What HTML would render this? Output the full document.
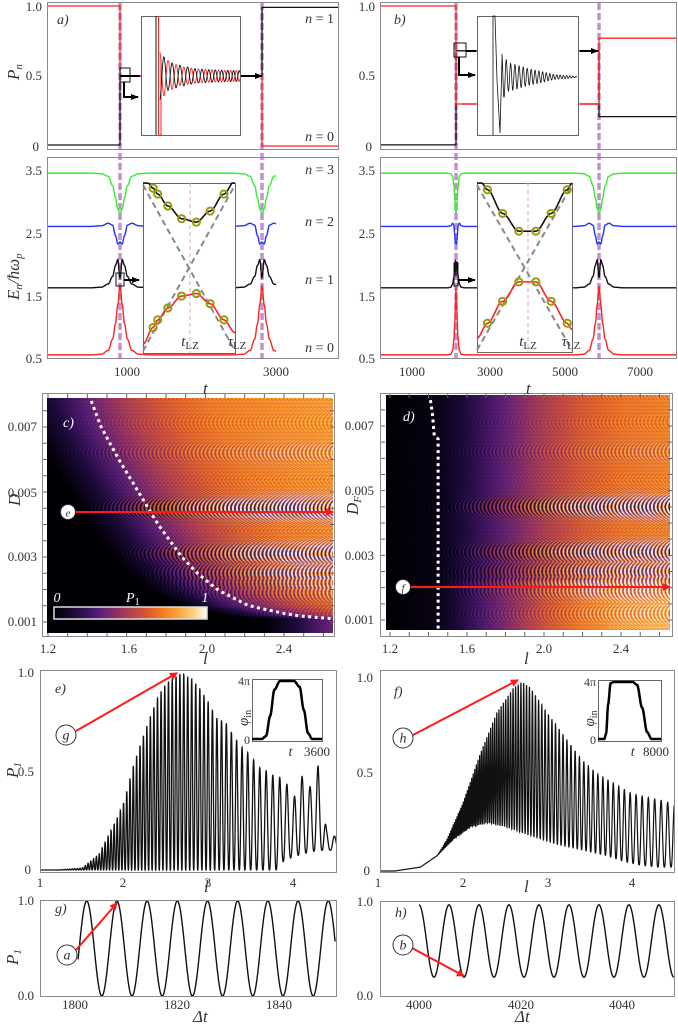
<!DOCTYPE html>
<html><head><meta charset="utf-8">
<style>
html,body{margin:0;padding:0;background:#fff;}
#root{position:relative;width:678px;height:1024px;overflow:hidden;background:#fff;}
canvas{position:absolute;}
svg{position:absolute;left:0;top:0;font-family:"Liberation Serif","DejaVu Serif",serif;}
svg text{font-family:"Liberation Serif","DejaVu Serif",serif;fill:#333;}
.tk{font-size:13px;}
.it{font-style:italic;}
</style></head>
<body>
<div id="root">
<canvas id="hc" width="286" height="235" style="left:47px;top:398px"></canvas>
<canvas id="hd" width="284" height="235" style="left:386px;top:395px"></canvas>
<svg id="svg" width="678" height="1024" viewBox="0 0 678 1024" font-family="Liberation Serif, DejaVu Serif, serif">
<defs>
<marker id="arR" markerWidth="8" markerHeight="8" refX="7" refY="4" orient="auto" markerUnits="userSpaceOnUse"><path d="M0,0 L8,4 L0,8 z" fill="#ff1a1a"/></marker>
<marker id="arK" markerWidth="8" markerHeight="8" refX="7" refY="4" orient="auto" markerUnits="userSpaceOnUse"><path d="M0,1 L8,4 L0,7 z" fill="#000"/></marker>
<clipPath id="cAt"><rect x="48" y="3" width="290" height="146"/></clipPath>
<clipPath id="cAb"><rect x="48" y="158" width="290" height="200"/></clipPath>
<clipPath id="cBt"><rect x="381" y="3" width="295" height="146"/></clipPath>
<clipPath id="cBb"><rect x="381" y="158" width="295" height="200"/></clipPath>
<clipPath id="cE"><rect x="41" y="671" width="295" height="201"/></clipPath>
<clipPath id="cF"><rect x="381" y="671" width="293" height="201"/></clipPath>
<clipPath id="cG"><rect x="41" y="901" width="295" height="95"/></clipPath>
<clipPath id="cH"><rect x="381" y="902" width="293" height="94"/></clipPath>
</defs>
<g id="lay"></g>
<g fill="none" stroke="#8a8a8a" stroke-width="1">
<rect x="47.5" y="2.5" width="291" height="147"/>
<rect x="47.5" y="157.5" width="291" height="201"/>
<rect x="380.5" y="2.5" width="296" height="147"/>
<rect x="380.5" y="157.5" width="296" height="201"/>
<rect x="42.5" y="393.5" width="292" height="243"/>
<rect x="380.5" y="393.5" width="292" height="243"/>
<rect x="40.5" y="670.5" width="296" height="202"/>
<rect x="40.5" y="900.5" width="296" height="96"/>
<rect x="380.5" y="670.5" width="294" height="202"/>
<rect x="380.5" y="901.5" width="294" height="95"/>
</g>
<g class="tk" text-anchor="end">
<text x="42" y="11">1.0</text>
<text x="42" y="80">0.5</text>
<text x="39" y="151">0</text>
<text x="42" y="175">3.5</text>
<text x="42" y="238">2.5</text>
<text x="42" y="301">1.5</text>
<text x="42" y="363">0.5</text>
<text x="375" y="11">1.0</text>
<text x="375" y="80">0.5</text>
<text x="372" y="151">0</text>
<text x="375" y="175">3.5</text>
<text x="375" y="238">2.5</text>
<text x="375" y="301">1.5</text>
<text x="375" y="363">0.5</text>
<text x="37" y="431">0.007</text>
<text x="37" y="497">0.005</text>
<text x="37" y="561">0.003</text>
<text x="37" y="626">0.001</text>
<text x="374" y="430">0.007</text>
<text x="374" y="495">0.005</text>
<text x="374" y="560">0.003</text>
<text x="374" y="624">0.001</text>
<text x="34" y="677">1.0</text>
<text x="34" y="776">0.5</text>
<text x="31" y="874">0</text>
<text x="34" y="905">1.0</text>
<text x="34" y="1000">0.0</text>
<text x="373" y="682">1.0</text>
<text x="373" y="777">0.5</text>
<text x="370" y="875">0</text>
<text x="373" y="906">1.0</text>
<text x="373" y="1000">0.0</text>
</g>
<g class="tk" text-anchor="middle">
<text x="127" y="376">1000</text>
<text x="276" y="376">3000</text>
<text x="412" y="376">1000</text>
<text x="490" y="376">3000</text>
<text x="565" y="376">5000</text>
<text x="640" y="376">7000</text>
<text x="48" y="653">1.2</text>
<text x="129" y="653">1.6</text>
<text x="207" y="653">2.0</text>
<text x="284" y="653">2.4</text>
<text x="390" y="653">1.2</text>
<text x="467" y="653">1.6</text>
<text x="544" y="653">2.0</text>
<text x="621" y="653">2.4</text>
<text x="40" y="887">1</text>
<text x="123" y="887">2</text>
<text x="208" y="887">3</text>
<text x="293" y="887">4</text>
<text x="378" y="887">1</text>
<text x="463" y="887">2</text>
<text x="548" y="887">3</text>
<text x="632" y="887">4</text>
<text x="75" y="1009">1800</text>
<text x="177" y="1009">1820</text>
<text x="279" y="1009">1840</text>
<text x="419" y="1009">4000</text>
<text x="521" y="1009">4020</text>
<text x="622" y="1009">4040</text>
</g>
<g font-size="17" class="it">
<text class="it" transform="translate(19,80) rotate(-90)">P<tspan font-size="11" dy="3">n</tspan></text>
<text class="it" transform="translate(19,300) rotate(-90)">E<tspan font-size="11" dy="3">n</tspan><tspan dy="-3">/ħω</tspan><tspan font-size="11" dy="3">p</tspan></text>
<text class="it" x="203" y="394">t</text>
<text class="it" x="526" y="394">t</text>
<text class="it" transform="translate(20,506) rotate(-90)">D</text>
<text class="it" transform="translate(358,515) rotate(-90)">D<tspan font-size="11" dy="3">F</tspan></text>
<text class="it" x="203" y="664">l</text>
<text class="it" x="524" y="664">l</text>
<text class="it" transform="translate(18,778) rotate(-90)">P<tspan font-size="11" dy="3">1</tspan></text>
<text class="it" x="204" y="892">l</text>
<text class="it" x="524" y="892">l</text>
<text class="it" transform="translate(18,965) rotate(-90)">P<tspan font-size="11" dy="3">1</tspan></text>
<text class="it" x="193" y="1022">Δt</text>
<text class="it" x="515" y="1022">Δt</text>
</g>
<g font-size="14" class="it">
<text class="it" x="57" y="24">a)</text>
<text class="it" x="394" y="24">b)</text>
<text class="it" x="63" y="427" style="fill:#fff">c)</text>
<text class="it" x="403" y="421" style="fill:#fff">d)</text>
<text class="it" x="55" y="693">e)</text>
<text class="it" x="394" y="696">f)</text>
<text class="it" x="55" y="913">g)</text>
<text class="it" x="395" y="917">h)</text>
</g>
<g font-size="14" text-anchor="end">
<text x="334" y="23"><tspan class="it">n</tspan> = 1</text>
<text x="334" y="141"><tspan class="it">n</tspan> = 0</text>
<text x="334" y="174"><tspan class="it">n</tspan> = 3</text>
<text x="334" y="226"><tspan class="it">n</tspan> = 2</text>
<text x="334" y="284"><tspan class="it">n</tspan> = 1</text>
<text x="334" y="352"><tspan class="it">n</tspan> = 0</text>
</g>
<g id="over"></g>
</svg>
</div>
<script>
// ===== DATA =====
const popARed = [1.0, 0.5, 0.0];
const popABlack = [0.007, 0.5, 0.99];
const popBRed = [1.0, 0.3, 0.77];
const popBBlack = [0.008, 0.68, 0.21];
const crossA = [892, 2811];
const crossB = [2137, 5917];
const widthA = [1.0, 1.0];
const widthB = [0.55, 1.6];
const eOffsets = [-400,-250,-160,-100,-60,-30,0,30,60,100,160,250,400];
const eN3 = [3.45,3.44,3.4,3.25,3.05,2.88,2.8,2.88,3.05,3.25,3.4,3.44,3.45];
const eN2 = [2.6,2.61,2.65,2.62,2.45,2.32,2.35,2.32,2.45,2.62,2.65,2.61,2.6];
const eN1 = [1.62,1.63,1.68,1.8,1.98,2.07,1.78,2.07,1.98,1.8,1.68,1.63,1.62];
const eN0 = [0.55,0.56,0.62,0.8,1.05,1.35,1.65,1.35,1.05,0.8,0.62,0.56,0.55];
const insAu = [0.11,0.16,0.27,0.42,0.58,0.73,0.88];
const insAblack = [0.03,0.065,0.135,0.21,0.23,0.165,0.065];
const insAred = [0.85,0.805,0.735,0.665,0.65,0.71,0.805];
const insBu = [0.11,0.27,0.44,0.62,0.78,0.95];
const insBblack = [0.04,0.18,0.285,0.285,0.18,0.04];
const insBred = [0.83,0.70,0.585,0.585,0.70,0.83];
const oscAx = [0,0.1,0.25,0.45,0.7,1.0];
const oscAampR = [0.2,0.13,0.08,0.06,0.05,0.045];
const oscAampK = [0.2,0.12,0.09,0.06,0.05,0.045];
const oscBx = [0,0.08,0.2,0.35,0.5,0.7,1.0];
const oscBamp = [0.2,0.12,0.1,0.07,0.05,0.02,0.005];
const dotCD = [0.0078,0.007,0.006,0.005,0.0045,0.004,0.003,0.0025,0.002,0.0015,0.0012,0.0011];
const dotCL = [1.42,1.47,1.56,1.66,1.71,1.76,1.88,1.96,2.06,2.22,2.45,2.65];
const meanOff = [-0.35,-0.2,0,0.2,0.4,0.6,0.9,1.2];
const meanVal = [0,0.14,0.34,0.5,0.62,0.7,0.75,0.78];
const bandD = [0.0062,0.0045,0.0031,0.0025,0.0022,0.0019,0.0012];
const bandA = [0.3,1.0,0.9,0.75,0.6,0.45,0.25];
const dotDD = [0.0078,0.0074,0.0067,0.0066,0.0064,0.0006];
const dotDL = [1.41,1.42,1.43,1.45,1.45,1.45];
const meanDl = [1.18,1.45,1.6,1.8,2.0,2.2,2.4,2.65];
const meanDv = [0,0.04,0.16,0.32,0.48,0.6,0.68,0.72];
const eL = [1.0,1.2,1.5,1.7,1.9,2.0,2.1,2.2,2.3,2.4,2.5,2.6,2.68,2.8,2.9,3.0,3.1,3.2,3.3,3.4,3.5,3.6,3.7,3.8,3.9,4.0,4.1,4.2,4.3,4.4,4.5];
const eHi = [0,0,0.01,0.08,0.25,0.35,0.52,0.65,0.77,0.88,0.95,0.98,1.0,0.97,0.92,0.85,0.77,0.75,0.68,0.62,0.58,0.52,0.5,0.47,0.47,0.35,0.48,0.42,0.53,0.2,0.17];
const eLoL = [1.0,3.8,3.9,4.1,4.3,4.5];
const eLo = [0,0,0.05,0.08,0.1,0.1];
const ePerL = [1.0,2.0,3.0,4.0,4.5];
const ePer = [0.025,0.038,0.05,0.09,0.1];
const fL = [1.0,1.2,1.5,1.7,1.8,2.0,2.2,2.4,2.6,2.7,2.8,3.0,3.2,3.4,3.6,3.8,4.0,4.2,4.4,4.5];
const fHi = [0,0,0.02,0.08,0.15,0.35,0.6,0.82,0.95,0.98,0.95,0.82,0.7,0.58,0.5,0.45,0.4,0.38,0.36,0.34];
const fLoL = [1.0,1.2,1.5,1.7,1.9,2.1,2.3,2.5,2.7,2.9,3.1,3.3,3.5,3.7,3.9,4.1,4.3,4.5];
const fLo = [0,0,0.02,0.08,0.17,0.23,0.25,0.23,0.2,0.17,0.14,0.12,0.1,0.08,0.05,0.03,0.02,0.02];
const fPerL = [1.0,2.0,3.0,4.0,4.5];
const fPer = [0.012,0.015,0.04,0.07,0.08];
const phiEt = [0,0.14,0.2,0.26,0.32,0.4,0.6,0.68,0.74,0.8,0.86,1];
const phiEv = [0,0,0.05,0.4,0.85,1,1,0.9,0.5,0.1,0,0];
const phiFt = [0,0.1,0.13,0.16,0.2,0.25,0.55,0.62,0.7,0.78,0.85,1];
const phiFv = [0,0,0.1,0.6,0.98,1,1,0.95,0.55,0.12,0,0];
const gRange = [1793, 1851];
const gPeak = 1802.3, gPeriod = 5.92, gMin = 0.0, gMax = 1.0, gStart = 1800.6;
const hRange = [3993, 4050];
const hPeak = 4000.0, hPeriod = 5.88, hMin = 0.2, hMax = 0.97, hStart = 4000.0;

// ===== helpers =====
const NS = 'http://www.w3.org/2000/svg';
const lay = document.getElementById('lay');
const over = document.getElementById('over');
function mk(tag, at, parent) { const e = document.createElementNS(NS, tag); for (const k in at) e.setAttribute(k, at[k]); (parent || lay).appendChild(e); return e; }
function interp(xs, ys, x) {
  if (x <= xs[0]) return ys[0];
  for (let i = 1; i < xs.length; i++) if (x <= xs[i]) { const f = (x - xs[i-1]) / (xs[i] - xs[i-1]); return ys[i-1] + f * (ys[i] - ys[i-1]); }
  return ys[ys.length - 1];
}
function smoothInterp(xs, ys, x) {
  if (x <= xs[0]) return ys[0];
  for (let i = 1; i < xs.length; i++) if (x <= xs[i]) { let f = (x - xs[i-1]) / (xs[i] - xs[i-1]); f = f*f*(3-2*f); return ys[i-1] + f * (ys[i] - ys[i-1]); }
  return ys[ys.length - 1];
}
function pts(a) { return a.map((p, i) => (i ? 'L' : 'M') + p[0].toFixed(2) + ',' + p[1].toFixed(2)).join(''); }

const xA = t => 128 + (t - 1000) * 0.074;
const xB = t => 413 + (t - 1000) * 0.03783;
const yP = p => 146 - p * 140;
const yE = e => 358 - (e - 0.5) * 62.67;

[crossA.map(xA), crossB.map(xB)].flat().forEach(x => {
  const ln = mk('line', {x1: x, y1: 3, x2: x, y2: 358, stroke: '#c58fd0', 'stroke-width': 3.5, 'stroke-dasharray': '7,3'});
  
  
});

function popCurve(xs, cross, vals, x0, x1, color, clip, name) {
  const c1 = xs(cross[0]), c2 = xs(cross[1]);
  const d = pts([[x0, yP(vals[0])], [c1, yP(vals[0])], [c1, yP(vals[1])], [c2, yP(vals[1])], [c2, yP(vals[2])], [x1, yP(vals[2])]]);
  const p = mk('path', {d: d, fill: 'none', stroke: color, 'stroke-width': 1.3, 'clip-path': 'url(#' + clip + ')'});
  
  
}
popCurve(xA, crossA, popABlack, 48, 339, '#111', 'cAt', 'pop-a-n1-curve');
popCurve(xA, crossA, popARed, 48, 339, '#ff2222', 'cAt', 'pop-a-n0-curve');
popCurve(xB, crossB, popBBlack, 381, 677, '#111', 'cBt', 'pop-b-n1-curve');
popCurve(xB, crossB, popBRed, 381, 677, '#ff2222', 'cBt', 'pop-b-n0-curve');

const levels = [[eN3,'#33ee33','level-n3'],[eN2,'#2233ff','level-n2'],[eN1,'#111','level-n1'],[eN0,'#ff2222','level-n0']];
function energy(xs, cross, wf, tmin, tmax, clip, pfx) {
  levels.forEach(([arr, col, nm]) => {
    const a = [];
    for (let i = 0; i <= 700; i++) {
      const t = tmin + (tmax - tmin) * i / 700;
      let v = arr[0];
      for (let k = 0; k < cross.length; k++) { const o = (t - cross[k]) / wf[k]; if (Math.abs(o) < 400) v = smoothInterp(eOffsets, arr, o); }
      a.push([xs(t), yE(v)]);
    }
    const p = mk('path', {d: pts(a), fill: 'none', stroke: col, 'stroke-width': 1.4, 'clip-path': 'url(#' + clip + ')'});
    
    
  });
}
energy(xA, crossA, widthA, -100, 3000, 'cAb', 'a');
energy(xB, crossB, widthB, 100, 9000, 'cBb', 'b');

function box(x, y, w, h, name) {
  const r = mk('rect', {x: x + 0.5, y: y + 0.5, width: w, height: h, fill: '#fff', stroke: '#666', 'stroke-width': 1}, over);
  
  
}
box(141, 16, 99, 119, 'inset-a-population');
(function(){
  const X0 = 160, X1 = 240, cy = 76, H = 119;
  const l1 = mk('line', {x1: 156, y1: 16, x2: 156, y2: 135, stroke: '#111', 'stroke-width': 1}, over);
  
  
  const l2 = mk('path', {d: 'M158.5,16 L158.5,135 L161,135 L161,60', fill: 'none', stroke: '#ff2222', 'stroke-width': 1}, over);
  
  
  [[oscAampR, '#ff2222', 0, 'inset-a-n0-osc'], [oscAampK, '#111', Math.PI, 'inset-a-n1-osc']].forEach(([amp, col, ph, nm]) => {
    const a = []; let phase = ph;
    for (let x = X0; x <= X1; x += 0.25) { const f = (x - X0) / (X1 - X0); phase += 2 * Math.PI * 0.25 / (8.5 - 3 * f); a.push([x, cy - H * interp(oscAx, amp, f) * Math.cos(phase)]); }
    const p = mk('path', {d: pts(a), fill: 'none', stroke: col, 'stroke-width': 0.9}, over);
    
    
  });
})();
box(477, 16, 101, 119, 'inset-b-population');
(function(){
  const X0 = 502, X1 = 577, cy = 77, H = 119;
  const a = [[493, 135], [493, 16], [495, 16], [497, 80], [500, 133], [502, 60]];
  let phase = 0;
  for (let x = X0; x <= X1; x += 0.2) { const f = (x - X0) / (X1 - X0); phase += 2 * Math.PI * 0.2 / (4.5 - 1.5 * f); a.push([x, cy - H * interp(oscBx, oscBamp, f) * Math.cos(phase)]); }
  const p = mk('path', {d: pts(a), fill: 'none', stroke: '#111', 'stroke-width': 0.8}, over);
  
  
})();
function eInset(x, y, w, h, us, bl, rd, cx, name) {
  box(x, y, w, h, name);
  const cl = mk('line', {x1: cx, y1: y, x2: cx, y2: y + h, stroke: '#d8a6dc', 'stroke-width': 1, 'stroke-dasharray': '4,3'}, over);
  
  
  const g1 = mk('path', {d: `M${x},${y+2} L${x+w},${y+h-2} M${x},${y+h-2} L${x+w},${y+2}`, stroke: '#888', 'stroke-width': 2, 'stroke-dasharray': '6,4', fill: 'none'}, over);
  
  
  [[bl, '#111', 'upper'], [rd, '#ff2222', 'lower']].forEach(([vs, col, nm]) => {
    const a = [];
    const ux = [0].concat(us, [1]);
    const vx = [vs[0] - (vs[1]-vs[0]) * us[0]/(us[1]-us[0])].concat(vs, [vs[vs.length-1] + (vs[vs.length-1]-vs[vs.length-2]) * (1-us[us.length-1])/(us[us.length-1]-us[us.length-2])]);
    for (let i = 0; i <= 60; i++) { const u = i / 60; const v = smoothInterp(ux, vx, u); a.push([x + u * w, y + Math.max(0, Math.min(1, v)) * h]); }
    const p = mk('path', {d: pts(a), fill: 'none', stroke: col, 'stroke-width': 1.6}, over);
    
    
    us.forEach((u, i) => {
      const c = mk('circle', {cx: x + u * w, cy: y + vs[i] * h, r: 3.6, fill: 'none', stroke: '#9a9a10', 'stroke-width': 2}, over);
      
      
    });
  });
}
eInset(143, 183, 92, 170, insAu, insAblack, insAred, 190, 'inset-a-energy');
eInset(477, 183, 95, 169, insBu, insBblack, insBred, 528, 'inset-b-energy');

function blackPath(d, name, arrow) {
  const p = mk('path', {d: d, fill: 'none', stroke: '#000', 'stroke-width': 2}, over);
  if (arrow) p.setAttribute('marker-end', 'url(#arK)');
  
  
}
function smallBox(x, y, w, h, name) {
  const r = mk('rect', {x: x, y: y, width: w, height: h, fill: 'none', stroke: '#111', 'stroke-width': 1}, over);
  
  
}
smallBox(120, 68, 10, 14, 'zoom-box-a-top');
blackPath('M120,76 L140,76', 'pointer-a-top-mid', false);
blackPath('M124,82 L124,97 L138,97', 'arrow-a-top', true);
blackPath('M241,76 L262,76', 'pointer-a-top-right', true);
smallBox(116, 273, 8, 13, 'zoom-box-a-bottom');
blackPath('M124,280 L139,280', 'arrow-a-bottom', true);
smallBox(454, 43, 12, 14, 'zoom-box-b-top');
blackPath('M466,51 L476,51', 'pointer-b-top-mid', false);
blackPath('M459,57 L459,75 L475,75', 'arrow-b-top', true);
blackPath('M580,51 L598,51', 'pointer-b-top-right', true);
smallBox(454, 263, 4, 23, 'zoom-box-b-bottom');
blackPath('M458,280 L475,280', 'arrow-b-bottom', true);
[[462,104,476,104],[580,104,598,104]].forEach(s => {
  const r = mk('line', {x1: s[0], y1: s[1], x2: s[2], y2: s[3], stroke: '#ff2222', 'stroke-width': 1.4}, over);
  
  
});
[[190,346,'t'],[237,346,'τ']].forEach(([x,y,s]) => {
  const t = mk('text', {x: x, y: y, 'font-size': 15, 'text-anchor': 'middle'}, over);
  t.innerHTML = '<tspan font-style="italic">' + s + '</tspan><tspan font-size="11" dy="3">LZ</tspan>';
  
  
});
[[528,346,'t'],[571,346,'τ']].forEach(([x,y,s]) => {
  const t = mk('text', {x: x, y: y, 'font-size': 15, 'text-anchor': 'middle'}, over);
  t.innerHTML = '<tspan font-style="italic">' + s + '</tspan><tspan font-size="11" dy="3">LZ</tspan>';
  
  
});

// ===== heatmaps =====
const cmapV = [0,0.15,0.3,0.45,0.6,0.72,0.85,0.94,1];
const cmapC = [[0,0,4],[30,10,60],[88,30,120],[160,55,90],[215,85,50],[245,130,25],[250,175,70],[252,225,160],[255,255,250]];
function cmap(v) {
  v = Math.max(0, Math.min(1, v));
  for (let i = 1; i < cmapV.length; i++) if (v <= cmapV[i]) { const f = (v - cmapV[i-1]) / (cmapV[i] - cmapV[i-1]); return cmapC[i-1].map((c, k) => c + f * (cmapC[i][k] - c)); }
  return cmapC[cmapC.length - 1];
}
function fringe(l, D, lstart) {
  let best = 1e9, bc = 0, ba = 0.2;
  bandD.forEach((b, i) => { const dd = Math.abs(D - b); if (dd < best) { best = dd; bc = b; ba = bandA[i]; } });
  const w = Math.exp(-Math.pow(best / 0.00035, 2));
  const A = 0.14 + (ba - 0.14) * w;
  const dk = (D - bc) * 1000;
  const ph = 2 * Math.PI * 50 * (l - lstart - 0.35 * dk * dk);
  const hstripe = 0.05 * Math.cos(2 * Math.PI * D * 1000 * 9);
  return A * Math.cos(ph) + hstripe;
}
function drawHeat(id, l0, l1, D0, D1, meanFn, lstartFn) {
  const cv = document.getElementById(id), ctx = cv.getContext('2d');
  const W = cv.width, H = cv.height, img = ctx.createImageData(W, H);
  for (let j = 0; j < H; j++) {
    const D = D1 - (D1 - D0) * (j + 0.5) / H;
    for (let i = 0; i < W; i++) {
      const l = l0 + (l1 - l0) * (i + 0.5) / W;
      const m = meanFn(l, D);
      const v = m + m * 0.95 * fringe(l, D, lstartFn(D));
      const c = cmap(v), k = (j * W + i) * 4;
      img.data[k] = c[0]; img.data[k+1] = c[1]; img.data[k+2] = c[2]; img.data[k+3] = 255;
    }
  }
  ctx.putImageData(img, 0, 0);
}
const lC0 = 1.2 + (47 - 48) / 196.7, lC1 = 1.2 + (333 - 48) / 196.7;
const DC1 = 0.007 + (427 - 398) / 32500, DC0 = 0.007 - (633 - 427) / 32500;
const dotCDr = dotCD.slice().reverse(), dotCLr = dotCL.slice().reverse();
drawHeat('hc', lC0, lC1, DC0, DC1, (l, D) => interp(meanOff, meanVal, l - interp(dotCDr, dotCLr, D)), D => 1.6);
const lD0 = 1.2 + (386 - 390) / 192.5, lD1 = 1.2 + (670 - 390) / 192.5;
const DD1 = 0.007 + (426 - 395) / 32330, DD0 = 0.007 - (630 - 426) / 32330;
drawHeat('hd', lD0, lD1, DD0, DD1, (l, D) => Math.min(0.85, interp(meanDl, meanDv, l) * (D < 0.0022 ? 1.18 : 1)), D => 1.7);
const xC = l => 48 + (l - 1.2) * 196.7, yC = D => 427 - (D - 0.007) * 32500;
const xD = l => 390 + (l - 1.2) * 192.5, yD = D => 426 - (D - 0.007) * 32330;
(function(){
  const a = []; for (let i = 0; i <= 80; i++) { const D = 0.0078 - (0.0078 - 0.0011) * i / 80; a.push([xC(interp(dotCDr, dotCLr, D)), yC(D)]); }
  const p = mk('path', {d: pts(a), fill: 'none', stroke: '#fff', 'stroke-width': 3, 'stroke-dasharray': '3,3.5'}, over);
  
  
  const b = dotDD.map((D, i) => [xD(dotDL[i]), yD(D)]);
  const q = mk('path', {d: pts(b), fill: 'none', stroke: '#fff', 'stroke-width': 3, 'stroke-dasharray': '3,3.5'}, over);
  
  
})();
(function(){
  for (let l = 1.2; l <= 2.66; l += 0.1) {
    [[xC(l), 394, 637], [xD(l), 394, 636]].forEach(([x, t, b]) => {
      const tk = mk('path', {d: `M${x},${t} l0,4 M${x},${b} l0,-4`, stroke: '#666', 'stroke-width': 1}, over);
      
      
    });
  }
  for (let D = 0.001; D <= 0.0079; D += 0.0005) {
    [[yC(D), 43, 334], [yD(D), 381, 672]].forEach(([y, l, r]) => {
      const tk = mk('path', {d: `M${l},${y} l4,0 M${r},${y} l-4,0`, stroke: '#666', 'stroke-width': 1}, over);
      
      
    });
  }
})();
(function(){
  const g = mk('linearGradient', {id: 'cbg', x1: 0, x2: 1, y1: 0, y2: 0}, over);
  
  
  for (let i = 0; i <= 10; i++) { const c = cmap(i / 10); const s = mk('stop', {offset: i / 10, 'stop-color': `rgb(${c.map(Math.round).join(',')})`}, g); }
  const r = mk('rect', {x: 54, y: 607, width: 153, height: 12, fill: 'url(#cbg)', stroke: '#ddd', 'stroke-width': 1.5}, over);
  
  
  [[57,602,'0'],[205,602,'1']].forEach(([x,y,s]) => {
    const t = mk('text', {x: x, y: y, 'font-size': 14, 'font-style': 'italic', 'text-anchor': 'middle', style: 'fill:#fff'}, over);
    t.textContent = s;
    
    
  });
  const t = mk('text', {x: 126, y: 602, 'font-size': 14, style: 'fill:#fff'}, over);
  t.innerHTML = '<tspan font-style="italic">P</tspan><tspan font-size="10" dy="3">1</tspan>';
  
  
})();
function redArrow(x1, y1, x2, y2, name) {
  const l = mk('line', {x1: x1, y1: y1, x2: x2, y2: y2, stroke: '#ff1a1a', 'stroke-width': 2, 'marker-end': 'url(#arR)'}, over);
  
  
}
function circLabel(x, y, r, s, fill, name) {
  const c = mk('circle', {cx: x, cy: y, r: r, fill: fill, stroke: '#333', 'stroke-width': 1}, over);
  
  
  const t = mk('text', {x: x, y: y + 4.5, 'font-size': r > 8 ? 14 : 11, 'text-anchor': 'middle', 'font-style': 'italic'}, over);
  t.textContent = s;
  
  
}
redArrow(76, 512, 333, 512, 'cut-arrow-c');
circLabel(68, 512, 7.5, 'e', '#fff', 'cut-label-e');
redArrow(411, 587, 670, 587, 'cut-arrow-f');
circLabel(403, 587, 7.5, 'f', '#fff', 'cut-label-f');

const xE = l => 40 + (l - 1) * 84.3, yEp = p => 870 - p * 197;
const xF = l => 378 + (l - 1) * 84.67, yFp = p => 871 - p * 193;
function oscL(L, Hi, LoL, Lo, PL, Pr, xs, ys, clip, name, sw) {
  const a = []; let phase = 0;
  for (let l = 1.0; l <= 4.55; l += 0.001) {
    phase += 2 * Math.PI * 0.001 / interp(PL, Pr, l);
    const hi = interp(L, Hi, l), lo = interp(LoL, Lo, l);
    const v = lo + (hi - lo) * Math.pow(0.5 + 0.5 * Math.cos(phase), 1.3);
    a.push([xs(l), ys(v)]);
  }
  const p = mk('path', {d: pts(a), fill: 'none', stroke: '#111', 'stroke-width': sw, 'clip-path': 'url(#' + clip + ')'});
  
  
}
oscL(eL, eHi, eLoL, eLo, ePerL, ePer, xE, yEp, 'cE', 'p1-vs-l-e-curve', 1.3);
oscL(fL, fHi, fLoL, fLo, fPerL, fPer, xF, yFp, 'cF', 'p1-vs-l-f-curve', 1.2);
function phiInset(x, y, w, h, ts, vs, nm, tmax) {
  box(x, y, w, h, nm);
  const a = []; for (let i = 0; i <= 120; i++) { const u = i / 120; a.push([x + u * w, y + 2 + (1 - smoothInterp(ts, vs, u)) * (h - 4)]); }
  const p = mk('path', {d: pts(a), fill: 'none', stroke: '#000', 'stroke-width': 2.5}, over);
  
  
  const l1 = mk('text', {x: x - 2, y: y + 6, 'font-size': 12, 'text-anchor': 'end'}, over);
  l1.textContent = '4π';
  
  
  const l0 = mk('text', {x: x - 2, y: y + h + 3, 'font-size': 12, 'text-anchor': 'end'}, over);
  l0.textContent = '0';
  
  
  const lt = mk('text', {x: x + w * 0.55, y: y + h + 15, 'font-size': 14, 'font-style': 'italic', 'text-anchor': 'middle'}, over);
  lt.textContent = 't';
  
  
  const lm = mk('text', {x: x + w + 8, y: y + h + 15, 'font-size': 13, 'text-anchor': 'end'}, over);
  lm.textContent = tmax;
  
  
  const ly = mk('text', {transform: `translate(${x - 4},${y + h / 2 + 16}) rotate(-90)`, 'font-size': 15}, over);
  ly.innerHTML = '<tspan font-style="italic">φ</tspan><tspan font-size="10" dy="3">in</tspan>';
  
  
}
phiInset(252, 679, 70, 62, phiEt, phiEv, 'inset-e', '3600');
phiInset(598, 680, 63, 61, phiFt, phiFv, 'inset-f', '8000');
redArrow(76, 731, 177, 673, 'arrow-e-to-peak');
circLabel(66, 735, 10, 'g', '#fff', 'label-g');
redArrow(413, 735, 518, 680, 'arrow-f-to-peak');
circLabel(403, 738, 10, 'h', '#fff', 'label-h');

const xG = t => 75 + (t - 1800) * 5.1, yG = p => 996 - p * 95;
const xH = t => 419 + (t - 4000) * 5.1, yH = p => 996 - p * 94;
function sine(start, end, peak, per, mn, mx, xs, ys, clip, name) {
  const a = [];
  for (let t = start; t <= end; t += 0.05) a.push([xs(t), ys(mn + (mx - mn) * (0.5 + 0.5 * Math.cos(2 * Math.PI * (t - peak) / per)))]);
  const p = mk('path', {d: pts(a), fill: 'none', stroke: '#111', 'stroke-width': 1.4, 'clip-path': 'url(#' + clip + ')'});
  
  
}
sine(gStart, gRange[1], gPeak, gPeriod, gMin, gMax, xG, yG, 'cG', 'p1-vs-dt-g-curve');
sine(hStart, hRange[1], hPeak, hPeriod, hMin, hMax, xH, yH, 'cH', 'p1-vs-dt-h-curve');
redArrow(76, 950, 117, 903, 'arrow-a-to-g');
circLabel(67, 955, 10, 'a', '#fff', 'label-a');
redArrow(412, 948, 464, 976, 'arrow-b-to-h');
circLabel(403, 945, 10, 'b', '#fff', 'label-b');
</script>
</body></html>
